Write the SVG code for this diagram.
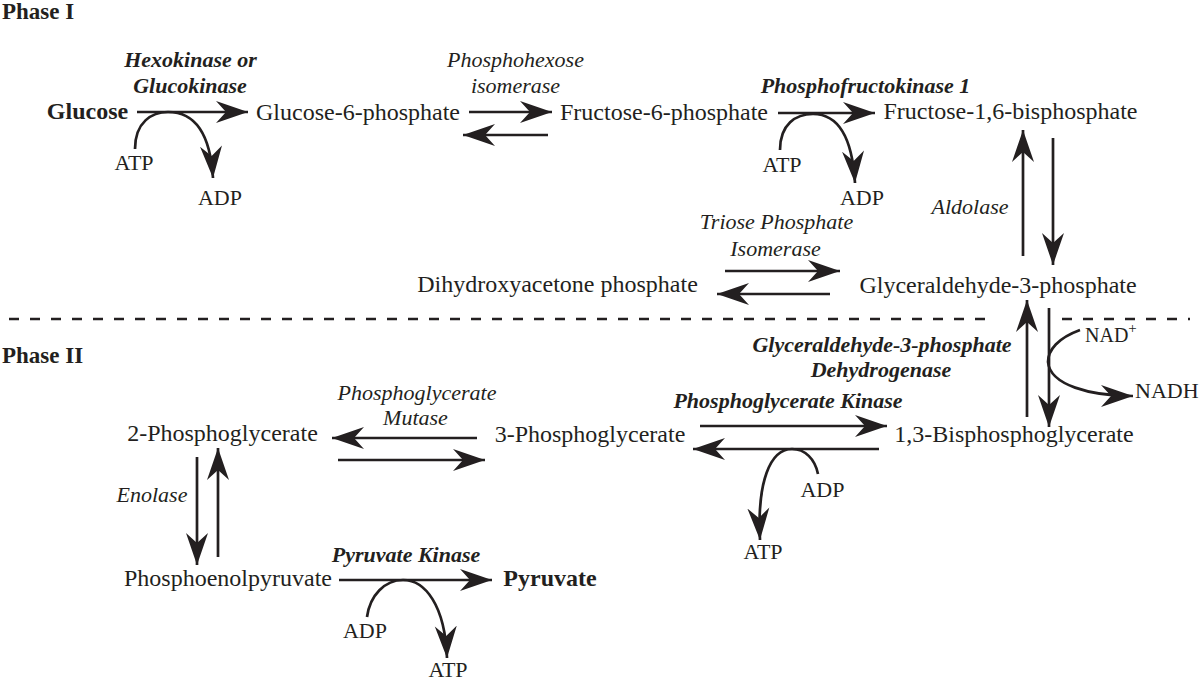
<svg xmlns="http://www.w3.org/2000/svg" width="1200" height="681" viewBox="0 0 1200 681">
<defs>
<style>
text{font-family:"Liberation Serif","Times New Roman",serif;fill:#231f20}
.m{font-size:24px;text-anchor:middle}
.b{font-size:24px;font-weight:bold;text-anchor:middle}
.s{font-size:22px;text-anchor:middle}
.e{font-size:22px;font-style:italic;text-anchor:middle}
.k{font-size:22px;font-style:italic;font-weight:bold;text-anchor:middle}
.ph{font-size:23px;font-weight:bold}
.c{fill:none;stroke:#231f20;stroke-width:2.7;marker-end:url(#ah)}
.d{fill:none;stroke:#231f20;stroke-width:2.4;stroke-dasharray:10 11}
</style>
<marker id="ah" markerUnits="userSpaceOnUse" markerWidth="34" markerHeight="26" refX="32" refY="12" orient="auto">
<path d="M32,12 Q16,6.5 0,1 L10,12 L0,23 Q16,17.5 32,12 Z" fill="#231f20"/>
</marker>
</defs>
<rect width="1200" height="681" fill="#fff"/>

<g id="phases">
<text class="ph" x="2" y="19">Phase I</text>
<text class="ph" x="2" y="363">Phase II</text>
</g>

<g id="connectors">
<path class="d" d="M9,319 L995,319"/>
<path class="d" d="M1062,319 L1190,319"/>
<path class="c" d="M137,112 L248,112"/>
<path class="c" d="M135,149 C135,122 152,112 168,112 C192,112 210,130 213,178"/>
<path class="c" d="M469,112 L552,112"/>
<path class="c" d="M548,135 L463,135"/>
<path class="c" d="M778,113 L875,113"/>
<path class="c" d="M780,150 C780,124 796,114 813,114 C836,114 852,134 855,183"/>
<path class="c" d="M1023,256 L1023,130"/>
<path class="c" d="M1053,138 L1053,265"/>
<path class="c" d="M725,271 L840,271"/>
<path class="c" d="M830,294 L717,294"/>
<path class="c" d="M1027,417 L1027,300"/>
<path class="c" d="M1049,308 L1049,427"/>
<path class="c" d="M1080,330 C1058,338 1048,350 1048,362 C1050,385 1090,396 1133,396"/>
<path class="c" d="M700,426 L887,426"/>
<path class="c" d="M879,449 L693,449"/>
<path class="c" d="M818,474 C815,459 805,449 792,449 C770,449 757,482 760,540"/>
<path class="c" d="M477,438 L332,438"/>
<path class="c" d="M338,460 L485,460"/>
<path class="c" d="M197,457 L197,565"/>
<path class="c" d="M218,557 L218,448"/>
<path class="c" d="M339,580 L492,580"/>
<path class="c" d="M367,617 C370,595 385,580 403,580 C425,580 445,605 447,658"/>
</g>

<g id="glucose"><text class="b" x="87.5" y="119">Glucose</text></g>
<g id="hexokinase"><text class="k" x="190.5" y="67">Hexokinase or</text><text class="k" x="190" y="93">Glucokinase</text></g>
<g id="atp1"><text class="s" x="134" y="170">ATP</text></g>
<g id="adp1"><text class="s" x="220" y="205">ADP</text></g>
<g id="g6p"><text class="m" x="358" y="120">Glucose-6-phosphate</text></g>
<g id="phi"><text class="e" x="515.5" y="67">Phosphohexose</text><text class="e" x="515.5" y="93">isomerase</text></g>
<g id="f6p"><text class="m" x="664" y="120">Fructose-6-phosphate</text></g>
<g id="pfk"><text class="k" x="865.5" y="93">Phosphofructokinase 1</text></g>
<g id="atp2"><text class="s" x="782" y="172">ATP</text></g>
<g id="adp2"><text class="s" x="862" y="205">ADP</text></g>
<g id="f16bp"><text class="m" x="1010.5" y="119">Fructose-1,6-bisphosphate</text></g>
<g id="aldolase"><text class="e" x="970" y="214">Aldolase</text></g>
<g id="tpi"><text class="e" x="776.5" y="229">Triose Phosphate</text><text class="e" x="775.5" y="256">Isomerase</text></g>
<g id="dhap"><text class="m" x="557.5" y="292">Dihydroxyacetone phosphate</text></g>
<g id="g3p"><text class="m" x="998" y="293">Glyceraldehyde-3-phosphate</text></g>
<g id="gapdh"><text class="k" x="882" y="352">Glyceraldehyde-3-phosphate</text><text class="k" x="881" y="377">Dehydrogenase</text></g>
<g id="nad"><text x="1085" y="342" style="font-size:20px">NAD<tspan dy="-9" style="font-size:15px">+</tspan></text></g>
<g id="nadh"><text x="1135" y="398" style="font-size:22px">NADH</text></g>
<g id="pgk"><text class="k" x="788" y="408">Phosphoglycerate Kinase</text></g>
<g id="bpg"><text class="m" x="1014" y="442">1,3-Bisphosphoglycerate</text></g>
<g id="adp3"><text class="s" x="822.5" y="497">ADP</text></g>
<g id="atp3"><text class="s" x="763" y="559">ATP</text></g>
<g id="pg3"><text class="m" x="590" y="442">3-Phosphoglycerate</text></g>
<g id="pgm"><text class="e" x="417" y="400">Phosphoglycerate</text><text class="e" x="415.5" y="425">Mutase</text></g>
<g id="pg2"><text class="m" x="222.5" y="441">2-Phosphoglycerate</text></g>
<g id="enolase"><text class="e" x="152" y="502">Enolase</text></g>
<g id="pep"><text class="m" x="228" y="586">Phosphoenolpyruvate</text></g>
<g id="pk"><text class="k" x="406" y="562">Pyruvate Kinase</text></g>
<g id="pyruvate"><text class="b" x="550" y="586">Pyruvate</text></g>
<g id="adp4"><text class="s" x="365" y="638">ADP</text></g>
<g id="atp4"><text class="s" x="448" y="677">ATP</text></g>
</svg>
